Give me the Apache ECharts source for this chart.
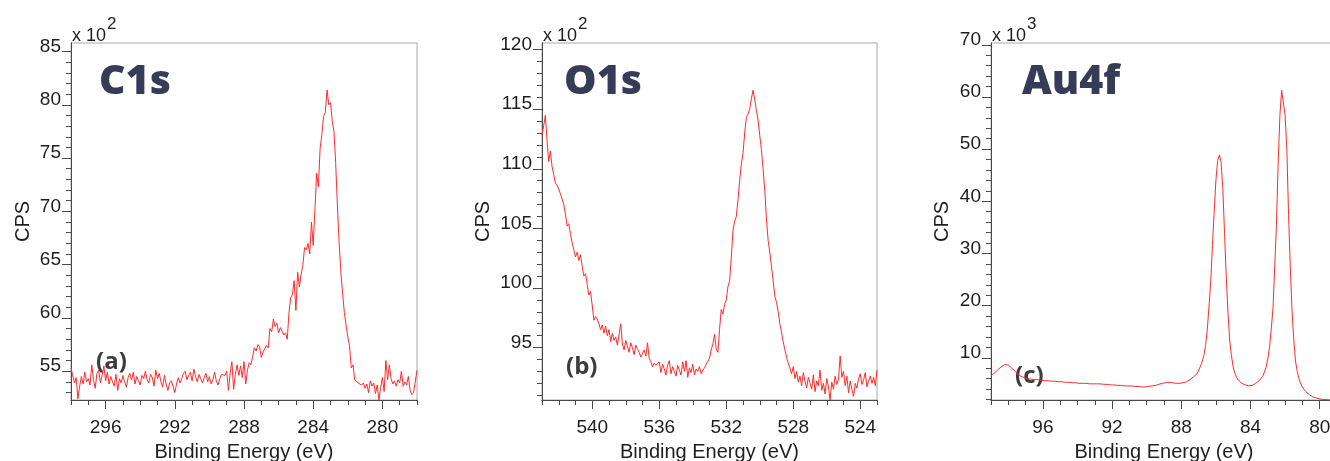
<!DOCTYPE html>
<html>
<head>
<meta charset="utf-8">
<title>XPS spectra: C1s, O1s, Au4f</title>
<script src="https://cdn.jsdelivr.net/npm/echarts@6/dist/echarts.min.js"></script>
<style>
  html, body { margin: 0; padding: 0; background: #ffffff; }
  #chart { width: 1330px; height: 461px; }
</style>
</head>
<body>
<div id="chart"></div>
<script>
// Binding energy scans, recorded from high to low energy at a fixed step (eV)
const c1sStart = 298.0, o1sStart = 543.0, au4fStart = 99.0;
const scanStep = 0.1;

// C1s counts (x 10^2 CPS), 298.0 -> 278.0 eV
const c1sCounts = [
  55.3, 54.6, 53.9, 54.4, 52.4, 53.6, 54.5, 53.8, 54.9, 54.0,
  54.3, 53.7, 55.6, 54.2, 53.4, 54.8, 55.1, 53.9, 54.6, 55.5,
  54.1, 54.9, 53.8, 54.5, 54.0, 53.6, 54.7, 53.2, 54.3, 53.9,
  54.6, 54.0, 53.5, 54.4, 54.8, 54.2, 54.9, 53.8, 54.5, 54.1,
  53.7, 54.6, 54.3, 55.0, 54.2, 53.9, 54.7, 54.4, 53.6, 55.1,
  54.3, 54.8, 54.0, 53.5, 54.6, 53.8, 53.2, 53.9, 54.1, 53.6,
  53.0, 53.8, 54.4, 53.9, 54.3, 54.8, 55.0, 54.2, 54.6, 54.9,
  54.1, 55.2, 54.5, 54.0, 54.7, 54.3, 53.9, 54.4, 54.8, 54.0,
  54.5, 53.8, 54.2, 54.9, 54.1, 53.7, 54.3, 54.7, 54.6, 54.6,
  55.0, 53.2, 54.8, 55.9, 53.3, 54.7, 55.6, 54.6, 55.5, 54.4,
  55.9, 53.8, 55.1, 55.8, 55.6, 56.4, 57.2, 56.9, 57.5, 57.3,
  56.3, 56.8, 57.1, 57.4, 57.2, 59.0, 58.7, 59.9, 59.2, 59.5,
  58.6, 59.1, 59.0, 58.4, 58.6, 58.0, 60.5, 61.9, 62.2, 63.5,
  60.7, 64.3, 62.9, 64.1, 64.9, 66.6, 66.4, 67.0, 66.0, 69.0,
  66.8, 70.2, 73.6, 72.3, 75.9, 77.2, 78.9, 79.3, 81.4, 80.0,
  80.2, 78.5, 77.5, 74.5, 70.5, 67.0, 64.3, 62.3, 60.5, 59.3,
  58.2, 57.4, 55.3, 55.6, 54.2, 54.1, 53.9, 54.0, 53.7, 53.9,
  53.4, 53.8, 53.0, 54.1, 53.6, 53.9, 52.9, 53.7, 52.3, 53.5,
  54.4, 53.1, 56.0, 54.2, 55.6, 54.3, 53.8, 54.1, 53.6, 54.2,
  53.9, 55.0, 53.6, 54.0, 53.7, 54.5, 53.2, 52.8, 53.0, 54.0,
  55.1
];

// O1s counts (x 10^2 CPS), 543.0 -> 523.0 eV
const o1sCounts = [
  112.8, 113.6, 114.5, 112.4, 110.6, 111.5, 110.2, 109.5, 108.8, 108.6,
  108.3, 107.9, 108.0, 107.0, 106.2, 105.2, 105.4, 104.5, 103.8, 103.2,
  102.6, 103.0, 102.3, 102.8, 101.8, 101.0, 101.2, 100.3, 99.4, 99.7,
  99.6, 97.3, 97.6, 97.4, 97.0, 96.5, 96.9, 96.2, 96.8, 96.0,
  96.5, 95.5, 96.2, 95.6, 95.9, 95.2, 96.1, 97.0, 95.3, 94.8,
  95.6, 95.1, 94.6, 95.4, 95.0, 94.4, 95.2, 94.9, 94.6, 94.2,
  94.2, 94.8, 94.3, 95.4, 94.1, 93.8, 93.4, 93.7, 93.5, 93.6,
  93.8, 92.9, 93.6, 93.2, 92.7, 93.5, 93.9, 92.8, 93.4, 93.0,
  92.6, 93.5, 93.1, 92.7, 93.8, 93.0, 93.9, 92.5, 93.3, 92.9,
  93.6, 92.7, 93.2, 93.0, 93.4, 92.8, 93.1, 93.3, 93.6, 93.5,
  94.1, 94.8, 95.3, 96.1, 94.9, 94.6, 96.5, 98.2, 97.8, 98.6,
  99.0, 100.1, 100.6, 102.5, 104.8, 105.6, 106.0, 107.4, 109.0, 110.4,
  111.3, 113.0, 114.3, 114.6, 115.0, 115.9, 116.6, 115.8, 114.9, 114.1,
  112.8, 111.6, 110.0, 108.2, 105.8, 104.0, 103.0, 101.8, 100.6, 99.3,
  98.8, 98.0, 97.0, 96.3, 95.5, 94.8, 94.2, 93.7, 93.3, 92.8,
  93.4, 92.4, 93.0, 92.1, 92.6, 91.8, 92.9, 92.2, 91.6, 92.5,
  92.0, 91.5, 92.7, 91.3, 92.2, 91.8, 93.1, 91.4, 92.0, 91.1,
  92.4, 91.7, 90.6, 92.1, 91.5, 92.6, 91.9, 92.3, 94.3, 92.5,
  93.0, 91.8, 92.6, 91.2, 92.2, 91.5, 90.9, 92.0, 91.6, 92.4,
  92.8, 91.9, 92.3, 92.9, 91.7, 92.2, 92.6, 92.0, 92.5, 91.8,
  93.1
];

// Au4f counts (x 10^3 CPS), 99.0 -> 79.0 eV
const au4fCounts = [
  6.6, 6.8, 7.1, 7.4, 7.7, 8.0, 8.3, 8.5, 8.7, 8.7,
  8.6, 8.3, 8.0, 7.7, 7.4, 7.0, 6.7, 6.5, 6.3, 6.2,
  6.1, 6.0, 6.0, 5.9, 5.9, 5.8, 5.8, 5.8, 5.7, 5.7,
  5.7, 5.6, 5.6, 5.6, 5.5, 5.5, 5.5, 5.5, 5.4, 5.4,
  5.4, 5.4, 5.3, 5.3, 5.3, 5.3, 5.2, 5.2, 5.2, 5.2,
  5.2, 5.1, 5.1, 5.1, 5.1, 5.1, 5.1, 5.0, 5.0, 5.0,
  5.0, 5.0, 5.0, 5.0, 4.9, 4.9, 4.9, 4.9, 4.9, 4.8,
  4.8, 4.8, 4.8, 4.7, 4.7, 4.7, 4.7, 4.6, 4.6, 4.6,
  4.6, 4.6, 4.5, 4.5, 4.5, 4.5, 4.4, 4.4, 4.4, 4.4,
  4.5, 4.5, 4.5, 4.6, 4.6, 4.7, 4.8, 4.9, 5.0, 5.1,
  5.2, 5.2, 5.2, 5.3, 5.2, 5.2, 5.2, 5.1, 5.1, 5.1,
  5.1, 5.2, 5.3, 5.4, 5.6, 5.8, 6.0, 6.3, 6.6, 6.9,
  7.2, 8.3, 9.2, 10.4, 12.3, 15.3, 19.8, 24.5, 31.5, 38.0,
  44.0, 47.8, 48.9, 47.5, 42.5, 33.8, 25.5, 18.5, 13.2, 10.4,
  8.2, 7.0, 6.2, 5.7, 5.4, 5.1, 4.9, 4.8, 4.7, 4.6,
  4.6, 4.7, 4.9, 5.1, 5.3, 5.6, 5.9, 6.4, 7.2, 8.2,
  9.8, 12.0, 15.5, 19.5, 27.5, 35.5, 47.5, 56.5, 61.3, 61.0,
  56.5, 50.0, 37.5, 27.5, 19.0, 13.5, 9.4, 7.4, 6.0, 5.0,
  4.4, 3.9, 3.5, 3.2, 2.9, 2.7, 2.5, 2.4, 2.3, 2.2,
  2.1, 2.1, 2.0, 2.0, 2.0, 2.0, 1.9, 1.9, 1.9, 1.9,
  1.9
];

// Labelled tick values for each axis
const c1sXTicks = [280, 284, 288, 292, 296];
const c1sYTicks = [55, 60, 65, 70, 75, 80, 85];
const o1sXTicks = [524, 528, 532, 536, 540];
const o1sYTicks = [95, 100, 105, 110, 115, 120];
const au4fXTicks = [80, 84, 88, 92, 96];
const au4fYTicks = [10, 20, 30, 40, 50, 60, 70];

// Panel texts
const panelTitles = ['C1s', 'O1s', 'Au4f'];
const panelTags = ['(a)', '(b)', '(c)'];
const panelExponents = ['2', '2', '3'];
const xAxisTitle = 'Binding Energy (eV)';
const yAxisTitle = 'CPS';

function toPairs(start, values) {
  return values.map((v, i) => [Math.round((start - i * scanStep) * 10) / 10, v]);
}
function tickRange(from, to, step) {
  const out = [];
  for (let v = from; v <= to + 1e-9; v += step) out.push(Math.round(v * 100) / 100);
  return out;
}

const tickFont = 'Liberation Sans, Arial, sans-serif';
const axisColor = '#4a4a4a';
const lineColor = '#ff2b2b';

const panels = [
  { left: 71, width: 346, xMin: 278, xMax: 298, yMin: 52.3, yMax: 85.8,
    xTicks: c1sXTicks, yTicks: c1sYTicks, yMinorStep: 1, yNameGap: 38,
    data: toPairs(c1sStart, c1sCounts) },
  { left: 542, width: 335, xMin: 523, xMax: 543, yMin: 90.6, yMax: 120.56,
    xTicks: o1sXTicks, yTicks: o1sYTicks, yMinorStep: 1, yNameGap: 49,
    data: toPairs(o1sStart, o1sCounts) },
  { left: 991, width: 346, xMin: 79, xMax: 99, yMin: 1.9, yMax: 70.36,
    xTicks: au4fXTicks, yTicks: au4fYTicks, yMinorStep: 2, yNameGap: 39,
    data: toPairs(au4fStart, au4fCounts) }
];

const grids = [], xAxes = [], yAxes = [], series = [], graphics = [];
const gridTop = 43, gridHeight = 357;

panels.forEach((p, i) => {
  grids.push({
    left: p.left, top: gridTop, width: p.width, height: gridHeight,
    show: true, borderColor: '#a9a9a9', borderWidth: 1, backgroundColor: 'transparent',
    outerBoundsMode: 'none', containLabel: false
  });

  const yMinorStart = Math.ceil(p.yMin / p.yMinorStep) * p.yMinorStep;
  const xMain = xAxes.length;
  // labelled major ticks on the energy axis
  xAxes.push({
    type: 'value', gridIndex: i, position: 'bottom', inverse: true,
    min: p.xMin, max: p.xMax,
    axisLine: { show: true, onZero: false, lineStyle: { color: axisColor, width: 1 } },
    axisTick: { show: true, inside: false, length: 9, customValues: p.xTicks,
                lineStyle: { color: axisColor, width: 1 } },
    axisLabel: { show: true, customValues: p.xTicks, margin: 18, fontSize: 19,
                 color: '#1e1e1e', fontFamily: tickFont },
    splitLine: { show: false },
    name: xAxisTitle, nameLocation: 'middle', nameGap: 42,
    nameTextStyle: { fontSize: 20, color: '#1e1e1e', fontFamily: tickFont }
  });
  // 1 eV minor ticks
  xAxes.push({
    type: 'value', gridIndex: i, position: 'bottom', inverse: true,
    min: p.xMin, max: p.xMax,
    axisLine: { show: true, onZero: false, lineStyle: { color: axisColor, width: 1 } },
    axisTick: { show: true, inside: false, length: 5,
                customValues: tickRange(p.xMin, p.xMax, 1),
                lineStyle: { color: axisColor, width: 1 } },
    axisLabel: { show: false }, splitLine: { show: false }
  });

  const yMain = yAxes.length;
  yAxes.push({
    type: 'value', gridIndex: i, position: 'left',
    min: p.yMin, max: p.yMax,
    axisLine: { show: true, onZero: false, lineStyle: { color: axisColor, width: 1 } },
    axisTick: { show: true, inside: false, length: 9, customValues: p.yTicks,
                lineStyle: { color: axisColor, width: 1 } },
    axisLabel: { show: true, customValues: p.yTicks, margin: 10, fontSize: 19,
                 color: '#1e1e1e', fontFamily: tickFont,
                 align: 'right', verticalAlign: 'bottom', lineHeight: 10 },
    splitLine: { show: false },
    name: yAxisTitle, nameLocation: 'middle', nameGap: p.yNameGap, nameRotate: 90,
    nameTextStyle: { fontSize: 20, color: '#1e1e1e', fontFamily: tickFont }
  });
  yAxes.push({
    type: 'value', gridIndex: i, position: 'left',
    min: p.yMin, max: p.yMax,
    axisLine: { show: true, onZero: false, lineStyle: { color: axisColor, width: 1 } },
    axisTick: { show: true, inside: false, length: 5,
                customValues: tickRange(yMinorStart, p.yMax, p.yMinorStep),
                lineStyle: { color: axisColor, width: 1 } },
    axisLabel: { show: false }, splitLine: { show: false }
  });

  series.push({
    type: 'line', xAxisIndex: xMain, yAxisIndex: yMain,
    data: p.data, showSymbol: false, symbol: 'none', clip: true,
    lineStyle: { color: lineColor, width: 1 }, itemStyle: { color: lineColor },
    emphasis: { disabled: true }, animation: false
  });

  // big element label inside the frame
  graphics.push({
    type: 'text', silent: true,
    style: { text: panelTitles[i], x: p.left + [28, 22, 31][i], y: 82,
             align: 'left', verticalAlign: 'middle',
             fontFamily: 'Open Sans, sans-serif', fontWeight: 800, fontSize: 41,
             fill: '#363b58' }
  });
  // panel tag
  graphics.push({
    type: 'text', silent: true,
    style: { text: panelTags[i], x: p.left + [25, 24, 24][i], y: [362, 367, 376][i],
             align: 'left', verticalAlign: 'middle',
             fontFamily: 'Open Sans, sans-serif', fontWeight: 'bold', fontSize: 24,
             fill: '#3c3c3c' }
  });
  // axis multiplier
  graphics.push({
    type: 'text', silent: true,
    style: { text: 'x 10', x: p.left + 1, y: 36, align: 'left', verticalAlign: 'middle',
             fontFamily: tickFont, fontSize: 18, fill: '#1e1e1e' }
  });
  graphics.push({
    type: 'text', silent: true,
    style: { text: panelExponents[i], x: p.left + 36, y: 24, align: 'left', verticalAlign: 'middle',
             fontFamily: tickFont, fontSize: 17, fill: '#1e1e1e' }
  });
});

const chart = echarts.init(document.getElementById('chart'), null, { renderer: 'canvas' });
chart.setOption({
  animation: false,
  backgroundColor: '#ffffff',
  grid: grids,
  xAxis: xAxes,
  yAxis: yAxes,
  series: series,
  graphic: graphics,
  tooltip: { show: false }
});
</script>
</body>
</html>
